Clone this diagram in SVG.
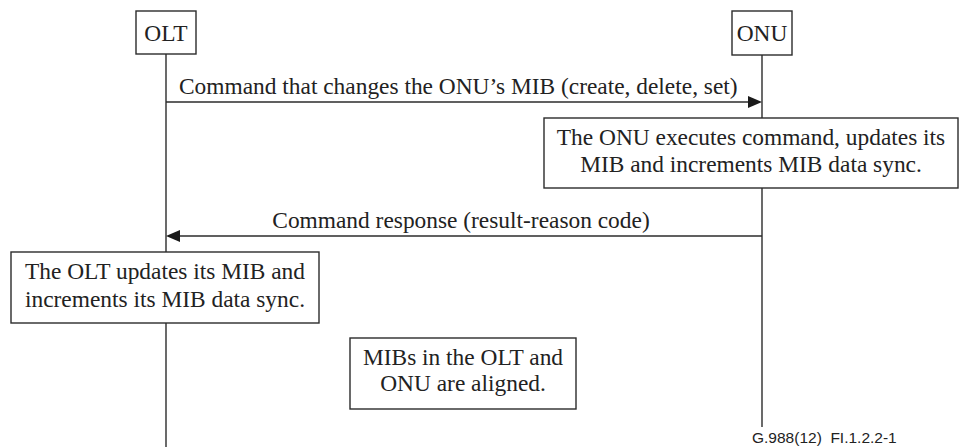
<svg xmlns="http://www.w3.org/2000/svg" width="972" height="447" viewBox="0 0 972 447">
<style>
.box{fill:#fff;stroke:#2b2b2b;stroke-width:1.4}
.life{stroke:#2b2b2b;stroke-width:1.4;fill:none}
.t{font-family:"Liberation Serif","Times New Roman",serif;font-size:23.4px;fill:#222}
.c{text-anchor:middle}
.ah{fill:#1a1a1a}
.fn{font-family:"Liberation Sans",Arial,sans-serif;font-size:15.5px;fill:#222}
</style>
<rect width="972" height="447" fill="#fff"/>
<g id="connectors">
<line class="life" x1="166" y1="54" x2="166" y2="447"/>
<line class="life" x1="762" y1="55" x2="762" y2="427"/>
<line class="life" x1="166" y1="102" x2="750" y2="102"/>
<polygon class="ah" points="748,96 762,102 748,108"/>
<text class="t" x="179" y="94">Command that changes the ONU’s MIB (create, delete, set)</text>
<line class="life" x1="178" y1="236" x2="762" y2="236"/>
<polygon class="ah" points="180,230 166,236 180,242"/>
<text class="t c" x="461" y="228">Command response (result-reason code)</text>
</g>
<g id="olt">
<rect class="box" x="136" y="11" width="60" height="43"/>
<text class="t c" x="166" y="41">OLT</text>
</g>
<g id="onu">
<rect class="box" x="732" y="11" width="60" height="44"/>
<text class="t c" x="762" y="41">ONU</text>
</g>
<g id="onu-exec">
<rect class="box" x="544" y="118" width="414" height="70"/>
<text class="t c" x="751" y="145">The ONU executes command, updates its</text>
<text class="t c" x="751" y="172">MIB and increments MIB data sync.</text>
</g>
<g id="olt-update">
<rect class="box" x="11" y="252" width="308" height="71"/>
<text class="t c" x="165" y="279">The OLT updates its MIB and</text>
<text class="t c" x="165" y="307">increments its MIB data sync.</text>
</g>
<g id="aligned">
<rect class="box" x="350" y="338" width="226" height="71"/>
<text class="t c" x="463" y="365">MIBs in the OLT and</text>
<text class="t c" x="463" y="391">ONU are aligned.</text>
</g>
<text class="fn" x="752" y="443" xml:space="preserve">G.988(12)  FI.1.2.2-1</text>
</svg>
